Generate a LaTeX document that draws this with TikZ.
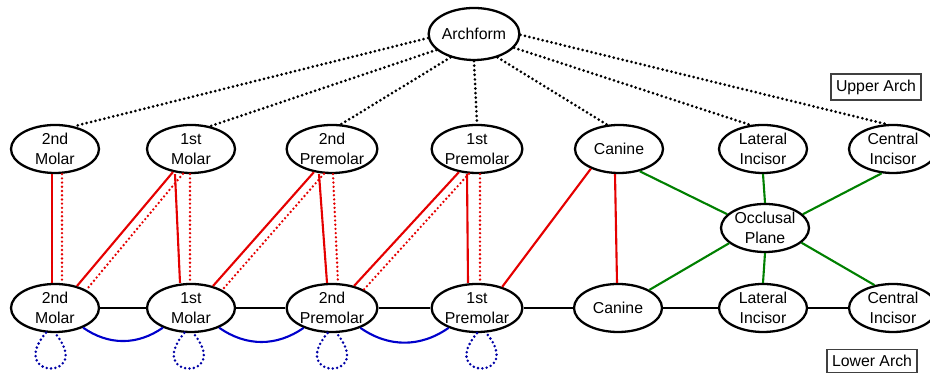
\documentclass[tikz,border=0pt]{standalone}
\usepackage{fontspec}
\setmainfont{Liberation Sans}
\usetikzlibrary{shapes.geometric}

\begin{document}
\begin{tikzpicture}[
  tooth/.style={ellipse, draw=black, line width=1.3pt,
                minimum width=1.76cm, minimum height=0.96cm, inner sep=0pt,
                align=center, font=\fontsize{9}{11}\selectfont},
  archlabel/.style={draw=black!75, line width=0.9pt, inner xsep=3pt,
                    minimum height=0.42cm, font=\fontsize{9}{11}\selectfont},
  guide/.style={line width=1.7pt, line cap=round, dash pattern=on 0pt off 2.6pt},
  bite/.style={line width=1.2pt, draw=red!90!black},
  bitedots/.style={line width=1.5pt, draw=red!90!black, line cap=round,
                   dash pattern=on 0pt off 2.4pt},
  plane/.style={line width=1.2pt, draw=green!50!black},
  chain/.style={line width=1.2pt, draw=black},
  contact/.style={line width=1.2pt, draw=blue!80!black},
  selfring/.style={line width=1.6pt, draw=blue!65!black, line cap=round,
                   dash pattern=on 0pt off 2.5pt}
]
  \useasboundingbox (0,0) rectangle (18.6,7.46);

  \node[tooth, minimum height=1.04cm] (archform) at (9.48,6.78) {Archform};

  \node[tooth] (umolar2) at (1.10,4.48) {2nd\\Molar};
  \node[tooth] (umolar1) at (3.82,4.48) {1st\\Molar};
  \node[tooth] (upremolar2) at (6.64,4.48) {2nd\\Premolar};
  \node[tooth] (upremolar1) at (9.54,4.48) {1st\\Premolar};
  \node[tooth] (ucanine) at (12.38,4.48) {Canine};
  \node[tooth] (ulateral) at (15.26,4.48) {Lateral\\Incisor};
  \node[tooth] (ucentral) at (17.86,4.48) {Central\\Incisor};

  \node[tooth] (occlusal) at (15.30,2.90) {Occlusal\\Plane};

  \node[tooth] (lmolar2) at (1.10,1.30) {2nd\\Molar};
  \node[tooth] (lmolar1) at (3.82,1.30) {1st\\Molar};
  \node[tooth] (lpremolar2) at (6.64,1.30) {2nd\\Premolar};
  \node[tooth] (lpremolar1) at (9.54,1.30) {1st\\Premolar};
  \node[tooth] (lcanine) at (12.36,1.30) {Canine};
  \node[tooth] (llateral) at (15.26,1.30) {Lateral\\Incisor};
  \node[tooth] (lcentral) at (17.86,1.30) {Central\\Incisor};

  \node[archlabel] (upperlab) at (17.52,5.72) {Upper Arch};
  \node[archlabel] (lowerlab) at (17.44,0.24) {Lower Arch};

  % archform to upper arch
  \draw[guide] (archform.185) -- (umolar2.50);
  \draw[guide] (archform.203) -- (umolar1.50);
  \draw[guide] (archform.225) -- (upremolar2.70);
  \draw[guide] (archform.south) -- (upremolar1.north);
  \draw[guide] (archform.315) -- (ucanine.116);
  \draw[guide] (archform.341) -- (ulateral.118);
  \draw[guide] (archform.359) -- (ucentral.105);

  % upper to lower, same tooth
  \draw[bite] ([xshift=-0.06cm]umolar2.south) -- ([xshift=-0.06cm]lmolar2.north);
  \draw[bitedots] ([xshift=0.14cm]umolar2.south) -- ([xshift=0.14cm]lmolar2.north);
  \draw[bite] ([xshift=-0.32cm]umolar1.south) -- ([xshift=-0.22cm]lmolar1.north);
  \draw[bitedots] ([xshift=-0.02cm]umolar1.south) -- ([xshift=-0.02cm]lmolar1.north);
  \draw[bite] ([xshift=-0.26cm]upremolar2.south) -- ([xshift=-0.10cm]lpremolar2.north);
  \draw[bitedots] ([xshift=0.02cm]upremolar2.south) -- ([xshift=0.12cm]lpremolar2.north);
  \draw[bite] ([xshift=-0.20cm]upremolar1.south) -- ([xshift=-0.18cm]lpremolar1.north);
  \draw[bitedots] ([xshift=0.06cm]upremolar1.south) -- ([xshift=0.06cm]lpremolar1.north);
  \draw[bite] ([xshift=-0.08cm]ucanine.south) -- ([xshift=-0.02cm]lcanine.north);

  % upper to lower, next tooth back
  \draw[bite] (umolar1.232) -- (lmolar2.45);
  \draw[bitedots] (umolar1.252) -- (lmolar2.30);
  \draw[bite] (upremolar2.232) -- (lmolar1.45);
  \draw[bitedots] (upremolar2.252) -- (lmolar1.30);
  \draw[bite] (upremolar1.232) -- (lpremolar2.45);
  \draw[bitedots] (upremolar1.252) -- (lpremolar2.30);
  \draw[bite] (ucanine.215) -- (lpremolar1.40);

  % occlusal plane
  \draw[plane] (ucanine.313) -- (occlusal.160);
  \draw[plane] (ulateral.south) -- (occlusal.north);
  \draw[plane] (ucentral.245) -- (occlusal.20);
  \draw[plane] (occlusal.203) -- (lcanine.30);
  \draw[plane] (occlusal.south) -- (llateral.north);
  \draw[plane] (occlusal.338) -- (lcentral.129);

  % lower arch
  \draw[chain] (lmolar2) -- (lmolar1);
  \draw[chain] (lmolar1) -- (lpremolar2);
  \draw[chain] (lpremolar2) -- (lpremolar1);
  \draw[chain] (lpremolar1) -- (lcanine);
  \draw[chain] (lcanine) -- (llateral);
  \draw[chain] (llateral) -- (lcentral);

  \draw[contact] (lmolar2.325) to[bend right=35] (lmolar1.215);
  \draw[contact] (lmolar1.325) to[bend right=35] (lpremolar2.215);
  \draw[contact] (lpremolar2.325) to[bend right=35] (lpremolar1.215);

  \draw[selfring] (lmolar2.250) .. controls +(-0.8,-0.95) and +(0.8,-0.95) .. (lmolar2.270);
  \draw[selfring] (lmolar1.255) .. controls +(-0.8,-0.95) and +(0.8,-0.95) .. (lmolar1.275);
  \draw[selfring] (lpremolar2.260) .. controls +(-0.8,-0.95) and +(0.8,-0.95) .. (lpremolar2.280);
  \draw[selfring] (lpremolar1.270) .. controls +(-0.8,-0.95) and +(0.8,-0.95) .. (lpremolar1.290);
\end{tikzpicture}
\end{document}
